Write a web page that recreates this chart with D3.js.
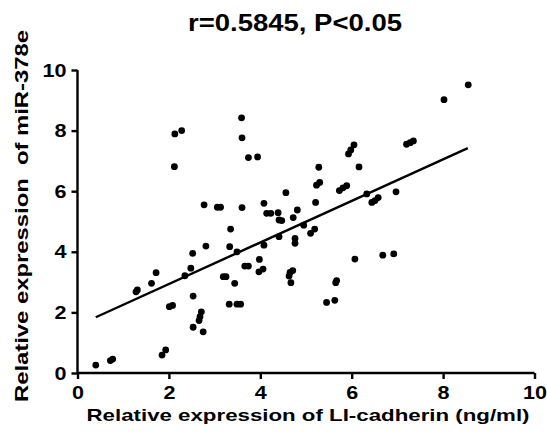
<html>
<head>
<script src="https://d3js.org/d3.v7.min.js"></script>
<style>
  body { margin: 0; background: white; }
  text { font-family: "Liberation Sans", Arial, sans-serif; font-weight: bold; fill: black; }
</style>
</head>
<body>
<svg id="chart" width="547" height="444"></svg>
<script>
// LI-cadherin (ng/ml) vs miR-378e
var cadherin = [0.40, 0.72, 0.77, 1.85, 1.93, 1.28, 1.31, 1.62, 1.72, 2.01,
  2.08, 2.35, 2.48, 2.52, 2.53, 2.53, 2.71, 2.68, 2.66, 2.75,
  2.81, 2.77, 3.06, 3.13, 2.12, 2.13, 2.28, 3.19, 3.25, 3.33,
  3.35, 3.32, 3.49, 3.57, 3.44, 3.49, 3.60, 3.59, 3.60, 3.74,
  3.94, 3.66, 3.74, 3.98, 3.97, 4.06, 4.08, 4.08, 4.14, 4.23,
  4.39, 4.41, 4.47, 4.41, 4.56, 4.65, 4.71, 4.63, 4.67, 4.72,
  4.81, 4.76, 4.76, 4.95, 5.10, 5.19, 5.21, 5.23, 5.30, 5.28,
  5.45, 5.63, 5.67, 5.65, 5.73, 5.81, 5.89, 5.93, 5.98, 6.05,
  6.07, 6.16, 6.33, 6.44, 6.51, 6.58, 6.68, 6.92, 6.97, 7.20,
  7.28, 7.35, 8.02, 8.55];
var mir378e = [0.26, 0.41, 0.46, 0.59, 0.76, 2.68, 2.74, 2.96, 3.31, 2.19,
  2.23, 3.21, 3.46, 3.95, 2.54, 1.51, 2.02, 1.86, 1.73, 1.36,
  4.19, 5.55, 5.47, 5.47, 6.81, 7.89, 8.00, 3.18, 3.18, 4.17,
  4.75, 2.27, 2.27, 2.27, 2.96, 4.00, 5.46, 8.42, 7.76, 7.11,
  7.13, 3.53, 3.53, 3.75, 3.34, 3.43, 4.22, 5.60, 5.27, 5.27,
  5.29, 5.05, 5.03, 4.50, 5.95, 3.32, 3.38, 3.20, 2.98, 5.13,
  5.38, 4.44, 4.28, 4.88, 4.61, 4.75, 5.63, 6.20, 6.29, 6.79,
  2.33, 2.40, 3.05, 2.98, 6.02, 6.11, 6.18, 7.23, 7.36, 7.53,
  3.76, 6.80, 5.91, 5.63, 5.69, 5.79, 3.89, 3.93, 5.98, 7.55,
  7.60, 7.66, 9.02, 9.51];

// fitted line ends
var fitX = [0.40, 8.54];
var fitY = [1.84, 7.42];

var xTicks = [0, 2, 4, 6, 8, 10];
var yTicks = [0, 2, 4, 6, 8, 10];

var svg = d3.select("#chart");
var x = d3.scaleLinear().domain([0, 10]).range([77.5, 534.5]);
var y = d3.scaleLinear().domain([0, 10]).range([373, 70]);

var xAxis = svg.append("g")
  .attr("transform", "translate(0,373)")
  .call(d3.axisBottom(x).tickValues(xTicks).tickSize(6).tickPadding(7).tickFormat(d3.format("d")));
var yAxis = svg.append("g")
  .attr("transform", "translate(77.5,0)")
  .call(d3.axisLeft(y).tickValues(yTicks).tickSize(6).tickPadding(5).tickFormat(d3.format("d")));

[xAxis, yAxis].forEach(function(g) {
  g.select(".domain").attr("stroke", "black").attr("stroke-width", 2.4);
  g.selectAll(".tick line").attr("stroke", "black").attr("stroke-width", 2.4);
  g.selectAll(".tick text")
    .style("font-family", "'Liberation Sans', Arial, sans-serif")
    .style("font-weight", "bold")
    .style("font-size", "19px")
    .attr("fill", "black")
    .attr("textLength", function(d) { return d >= 10 ? 24 : 12; })
    .attr("lengthAdjust", "spacingAndGlyphs");
});
xAxis.select(".domain").attr("d", "M77.5,0H534.5");
yAxis.select(".domain").attr("d", "M0,70V373");

var pts = cadherin.map(function(d, i) { return [d, mir378e[i]]; });
svg.append("g").selectAll("circle")
  .data(pts)
  .enter()
  .append("circle")
    .attr("cx", function(d) { return x(d[0]); })
    .attr("cy", function(d) { return y(d[1]); })
    .attr("r", 3.4)
    .attr("fill", "black");

svg.append("line")
  .attr("x1", x(fitX[0])).attr("y1", y(fitY[0]))
  .attr("x2", x(fitX[1])).attr("y2", y(fitY[1]))
  .attr("stroke", "black").attr("stroke-width", 2.4);

svg.append("text")
  .attr("x", 295).attr("y", 31)
  .style("text-anchor", "middle")
  .style("font-size", "23px")
  .attr("textLength", 214).attr("lengthAdjust", "spacingAndGlyphs")
  .text("r=0.5845, P<0.05");

svg.append("text")
  .attr("x", 308).attr("y", 421)
  .style("text-anchor", "middle")
  .style("font-size", "17px")
  .attr("textLength", 443).attr("lengthAdjust", "spacingAndGlyphs")
  .text("Relative expression of LI-cadherin (ng/ml)");

svg.append("text")
  .attr("transform", "translate(28,216) rotate(-90)")
  .style("text-anchor", "middle")
  .style("font-size", "18px")
  .attr("xml:space", "preserve")
  .attr("textLength", 372).attr("lengthAdjust", "spacingAndGlyphs")
  .text("Relative expression  of miR-378e");
</script>
</body>
</html>
